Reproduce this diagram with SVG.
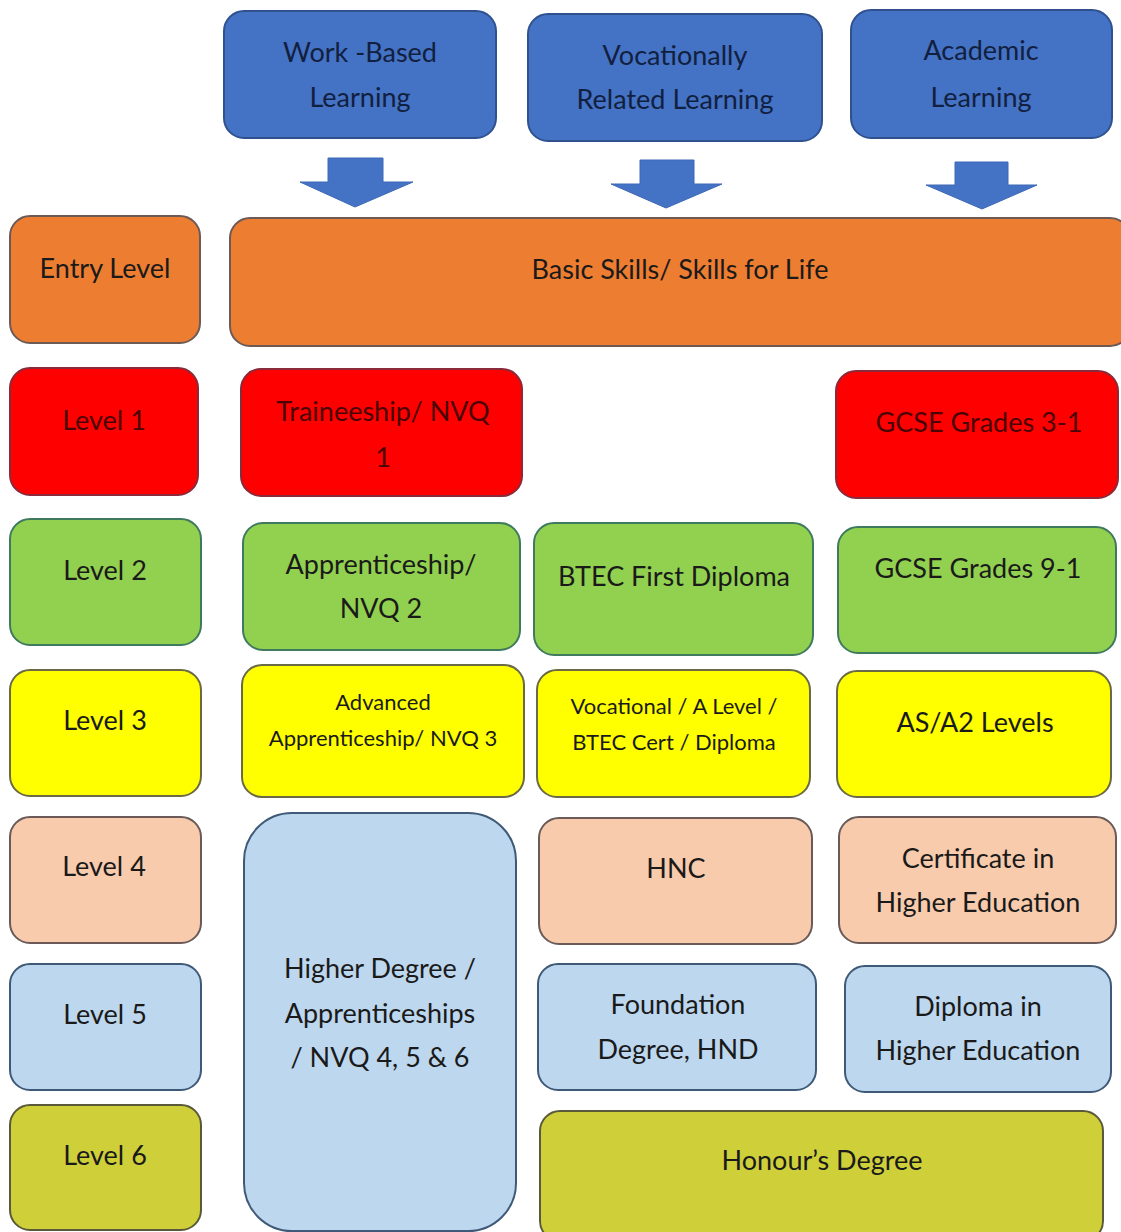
<svg xmlns="http://www.w3.org/2000/svg" width="1121" height="1232" viewBox="0 0 1121 1232">
<style>
rect{stroke-width:2}
text{font-family:Lato,"Liberation Sans",sans-serif;font-size:27px;text-anchor:middle;fill:#1a1a1a}
.sm{font-size:22px}
.blue{fill:#4472C4;stroke:#2F528F}
.bt{fill:#12203f}
.org{fill:#ED7D31;stroke:#6e5a55}
.red{fill:#FF0000;stroke:#8a2a3a}
.rt{fill:#4a0404}
.grn{fill:#92D050;stroke:#3f7a5e}
.yel{fill:#FFFF00;stroke:#6a6a45}
.pch{fill:#F8CBAD;stroke:#6a5a58}
.lb{fill:#BDD7EE;stroke:#3f5a78}
.olv{fill:#CFCF3A;stroke:#5a5a3a}
.arr{fill:#4472C4;stroke:#3d68b5;stroke-width:1}
</style>
<rect width="1121" height="1232" fill="#ffffff" stroke="none"/>
<g id="connectors">
<path class="arr" d="M328,158 H383 V182 H413 L355,207 L300,182 H328 Z"/>
<path class="arr" d="M640,160 H694 V184 H722 L666,208 L611,184 H640 Z"/>
<path class="arr" d="M955,162 H1008 V185 H1037 L982,209 L926,185 H955 Z"/>
</g>
<g id="work-based"><rect class="blue" x="224" y="11" width="272" height="127" rx="20"/><text class="bt" x="360" y="62">Work -Based</text><text class="bt" x="360" y="107">Learning</text></g>
<g id="vocational"><rect class="blue" x="528" y="14" width="294" height="127" rx="20"/><text class="bt" x="675" y="65">Vocationally</text><text class="bt" x="675" y="109">Related Learning</text></g>
<g id="academic"><rect class="blue" x="851" y="10" width="261" height="128" rx="20"/><text class="bt" x="981" y="60">Academic</text><text class="bt" x="981" y="107">Learning</text></g>

<g id="entry-level"><rect class="org" x="10" y="216" width="190" height="127" rx="20"/><text x="105" y="278">Entry Level</text></g>
<g id="basic-skills"><rect class="org" x="230" y="218" width="900" height="128" rx="20"/><text x="680" y="279">Basic Skills/ Skills for Life</text></g>

<g id="level-1"><rect class="red" x="10" y="368" width="188" height="127" rx="20"/><text class="rt" x="104" y="430">Level 1</text></g>
<g id="traineeship"><rect class="red" x="241" y="369" width="281" height="127" rx="20"/><text class="rt" x="383" y="421">Traineeship/ NVQ</text><text class="rt" x="383" y="467">1</text></g>
<g id="gcse-3-1"><rect class="red" x="836" y="371" width="282" height="127" rx="20"/><text class="rt" x="979" y="432">GCSE Grades 3-1</text></g>

<g id="level-2"><rect class="grn" x="10" y="519" width="191" height="126" rx="20"/><text x="105" y="580">Level 2</text></g>
<g id="apprenticeship"><rect class="grn" x="243" y="523" width="277" height="127" rx="20"/><text x="381" y="574">Apprenticeship/</text><text x="381" y="618">NVQ 2</text></g>
<g id="btec-first"><rect class="grn" x="534" y="523" width="279" height="132" rx="20"/><text x="674" y="586">BTEC First Diploma</text></g>
<g id="gcse-9-1"><rect class="grn" x="838" y="527" width="278" height="126" rx="20"/><text x="978" y="578">GCSE Grades 9-1</text></g>

<g id="level-3"><rect class="yel" x="10" y="670" width="191" height="126" rx="20"/><text x="105" y="730">Level 3</text></g>
<g id="advanced"><rect class="yel" x="242" y="665" width="282" height="132" rx="20"/><text class="sm" x="383" y="710">Advanced</text><text class="sm" x="383" y="746">Apprenticeship/ NVQ 3</text></g>
<g id="vocational-a-level"><rect class="yel" x="537" y="670" width="273" height="127" rx="20"/><text class="sm" x="674" y="714">Vocational / A Level /</text><text class="sm" x="674" y="750">BTEC Cert / Diploma</text></g>
<g id="as-a2"><rect class="yel" x="837" y="671" width="274" height="126" rx="20"/><text x="975" y="732">AS/A2 Levels</text></g>

<g id="level-4"><rect class="pch" x="10" y="817" width="191" height="126" rx="20"/><text x="104" y="876">Level 4</text></g>
<g id="higher-degree"><rect class="lb" x="244" y="813" width="272" height="418" rx="48"/><text x="380" y="978">Higher Degree /</text><text x="380" y="1023">Apprenticeships</text><text x="380" y="1067">/ NVQ 4, 5 &amp; 6</text></g>
<g id="hnc"><rect class="pch" x="539" y="818" width="273" height="126" rx="20"/><text x="676" y="878">HNC</text></g>
<g id="cert-he"><rect class="pch" x="839" y="817" width="277" height="126" rx="20"/><text x="978" y="868">Certificate in</text><text x="978" y="912">Higher Education</text></g>

<g id="level-5"><rect class="lb" x="10" y="964" width="191" height="126" rx="20"/><text x="105" y="1024">Level 5</text></g>
<g id="foundation"><rect class="lb" x="538" y="964" width="278" height="126" rx="20"/><text x="678" y="1014">Foundation</text><text x="678" y="1059">Degree, HND</text></g>
<g id="diploma-he"><rect class="lb" x="845" y="966" width="266" height="126" rx="20"/><text x="978" y="1016">Diploma in</text><text x="978" y="1060">Higher Education</text></g>

<g id="level-6"><rect class="olv" x="10" y="1105" width="191" height="125" rx="20"/><text x="105" y="1165">Level 6</text></g>
<g id="honours"><rect class="olv" x="540" y="1111" width="563" height="130" rx="20"/><text x="822" y="1170">Honour’s Degree</text></g>
</svg>
